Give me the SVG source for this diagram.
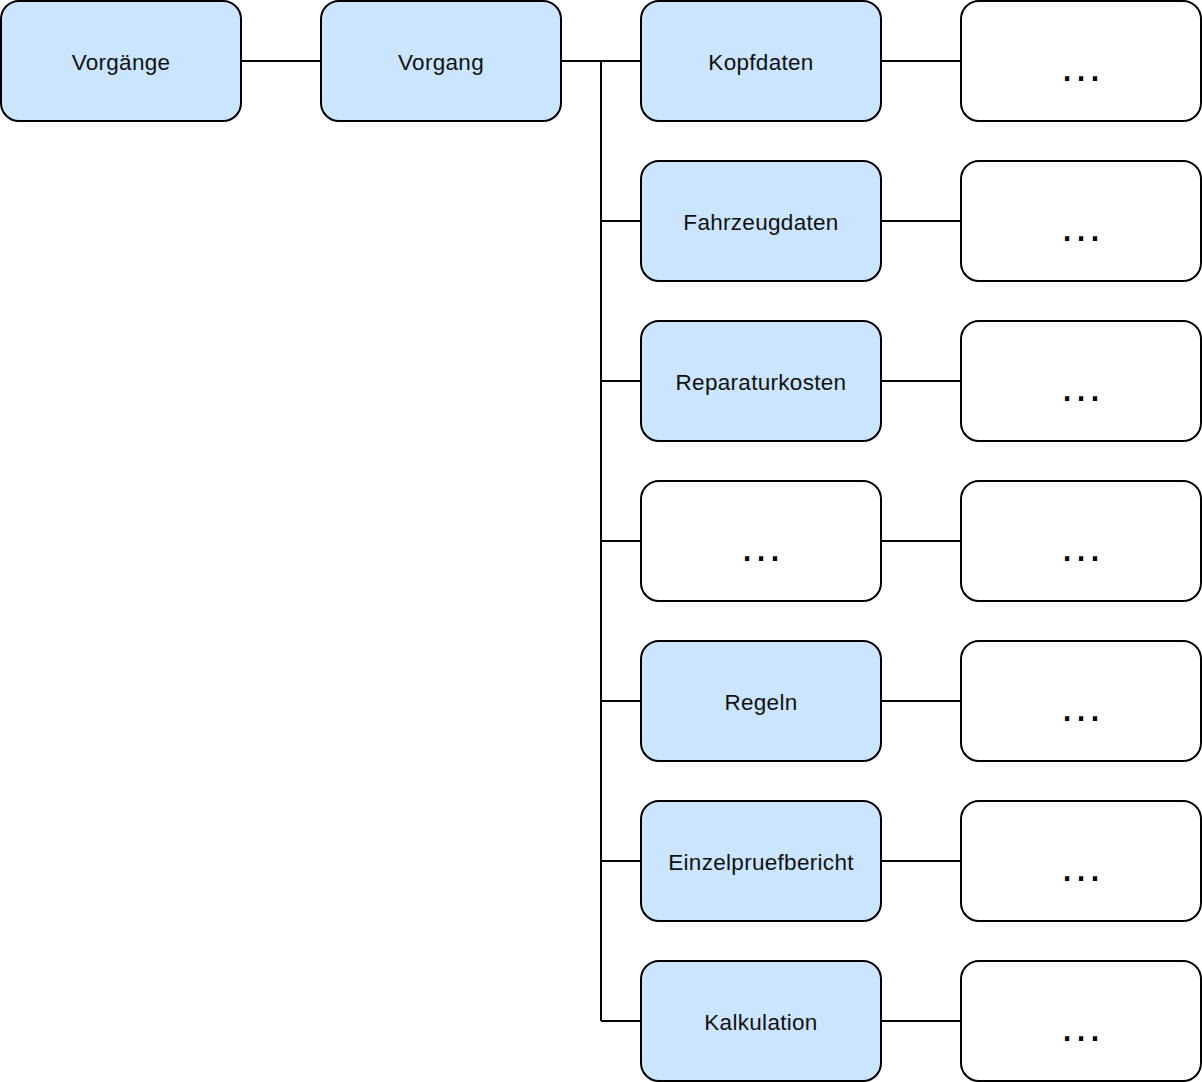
<svg xmlns="http://www.w3.org/2000/svg" width="1202" height="1082" viewBox="0 0 1202 1082">
<style>
.b{fill:#cce5ff;stroke:#000;stroke-width:2}
.w{fill:#fff;stroke:#000;stroke-width:2}
.t{font-family:"Liberation Sans",Arial,sans-serif;font-size:22.5px;letter-spacing:0.3px;fill:#111;text-anchor:middle}
.d{font-family:"Liberation Sans",Arial,sans-serif;font-size:44px;fill:#000;text-anchor:middle}
.c{fill:none;stroke:#000;stroke-width:2}
</style>
<rect width="1202" height="1082" fill="#fff"/>
<g id="connectors">
<path class="c" d="M241 61H321M561 61H641M601 61V1021M601 221H641M601 381H641M601 541H641M601 701H641M601 861H641M601 1021H641"/>
<path class="c" d="M881 61H961M881 221H961M881 381H961M881 541H961M881 701H961M881 861H961M881 1021H961"/>
</g>
<g id="vorgaenge"><rect class="b" x="1" y="1" width="240" height="120" rx="18"/><text class="t" x="121" y="69.5">Vorgänge</text></g>
<g id="vorgang"><rect class="b" x="321" y="1" width="240" height="120" rx="18"/><text class="t" x="441" y="69.5">Vorgang</text></g>
<g id="kopfdaten"><rect class="b" x="641" y="1" width="240" height="120" rx="18"/><text class="t" x="761" y="69.5">Kopfdaten</text></g>
<g id="fahrzeugdaten"><rect class="b" x="641" y="161" width="240" height="120" rx="18"/><text class="t" x="761" y="229.5">Fahrzeugdaten</text></g>
<g id="reparaturkosten"><rect class="b" x="641" y="321" width="240" height="120" rx="18"/><text class="t" x="761" y="389.5">Reparaturkosten</text></g>
<g id="mid-ellipsis"><rect class="w" x="641" y="481" width="240" height="120" rx="18"/><text class="d" x="761" y="561">…</text></g>
<g id="regeln"><rect class="b" x="641" y="641" width="240" height="120" rx="18"/><text class="t" x="761" y="709.5">Regeln</text></g>
<g id="einzelpruefbericht"><rect class="b" x="641" y="801" width="240" height="120" rx="18"/><text class="t" x="761" y="869.5">Einzelpruefbericht</text></g>
<g id="kalkulation"><rect class="b" x="641" y="961" width="240" height="120" rx="18"/><text class="t" x="761" y="1029.5">Kalkulation</text></g>
<g id="r1"><rect class="w" x="961" y="1" width="240" height="120" rx="18"/><text class="d" x="1081" y="81">…</text></g>
<g id="r2"><rect class="w" x="961" y="161" width="240" height="120" rx="18"/><text class="d" x="1081" y="241">…</text></g>
<g id="r3"><rect class="w" x="961" y="321" width="240" height="120" rx="18"/><text class="d" x="1081" y="401">…</text></g>
<g id="r4"><rect class="w" x="961" y="481" width="240" height="120" rx="18"/><text class="d" x="1081" y="561">…</text></g>
<g id="r5"><rect class="w" x="961" y="641" width="240" height="120" rx="18"/><text class="d" x="1081" y="721">…</text></g>
<g id="r6"><rect class="w" x="961" y="801" width="240" height="120" rx="18"/><text class="d" x="1081" y="881">…</text></g>
<g id="r7"><rect class="w" x="961" y="961" width="240" height="120" rx="18"/><text class="d" x="1081" y="1041">…</text></g>
</svg>
